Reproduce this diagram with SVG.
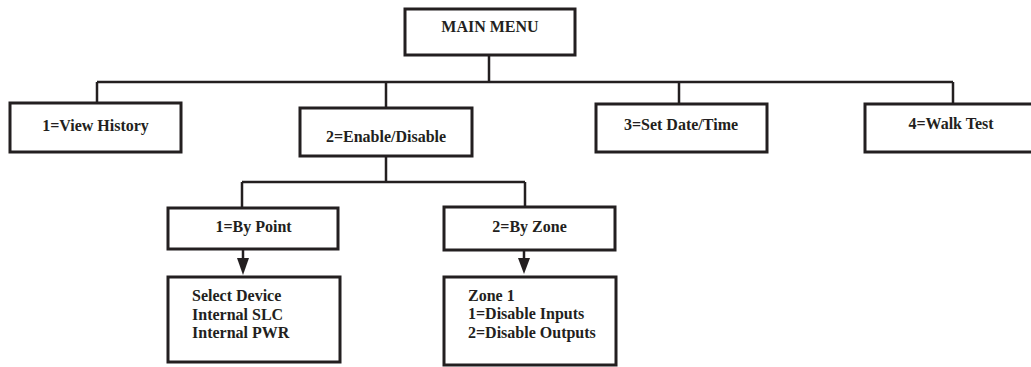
<svg xmlns="http://www.w3.org/2000/svg" width="1031" height="367" viewBox="0 0 1031 367">
<defs>
<style>
.box{fill:#fff;stroke:#231f20;stroke-width:3}
.ln{fill:none;stroke:#231f20;stroke-width:2.5}
.t{font-family:"Liberation Serif","Times New Roman",serif;font-weight:bold;font-size:16px;fill:#231f20}
.c{text-anchor:middle}
</style>
<marker id="arr" markerUnits="userSpaceOnUse" markerWidth="14" markerHeight="18" refX="12" refY="6" orient="auto">
<path d="M0,0 L14,6 L0,12 Z" fill="#231f20" transform="translate(-2,0)"/>
</marker>
</defs>
<rect width="1031" height="367" fill="#fff"/>
<g id="connectors">
<path class="ln" d="M489,55 V82 M97,82 H953 M97,82 V103 M386,82 V108 M679,82 V104 M953,82 V104"/>
<path class="ln" d="M386,156 V182 M242,182 H525 M242,182 V208 M525,182 V207"/>
<path class="ln" d="M243,249 V260" />
<polygon points="237,258 249,258 243,275" fill="#231f20"/>
<path class="ln" d="M524,250 V260" />
<polygon points="518,258 530,258 524,274" fill="#231f20"/>
</g>
<g id="main-menu"><rect class="box" x="405" y="9" width="170" height="46"/><text class="t c" x="490" y="32">MAIN MENU</text></g>
<g id="view-history"><rect class="box" x="10" y="103" width="171" height="49"/><text class="t c" x="95.5" y="131">1=View History</text></g>
<g id="enable-disable"><rect class="box" x="300" y="108" width="172" height="48"/><text class="t c" x="386" y="142">2=Enable/Disable</text></g>
<g id="set-date-time"><rect class="box" x="596" y="104" width="171" height="48"/><text class="t c" x="681" y="130">3=Set Date/Time</text></g>
<g id="walk-test"><rect class="box" x="865" y="104" width="180" height="48"/><text class="t c" x="951" y="129">4=Walk Test</text></g>
<g id="by-point"><rect class="box" x="168" y="208" width="170" height="41"/><text class="t c" x="253.5" y="232">1=By Point</text></g>
<g id="by-zone"><rect class="box" x="444" y="207" width="171" height="43"/><text class="t c" x="529.5" y="232">2=By Zone</text></g>
<g id="point-detail"><rect class="box" x="168" y="277" width="172" height="85"/>
<text class="t" x="192" y="301">Select Device</text>
<text class="t" x="192" y="320">Internal SLC</text>
<text class="t" x="192" y="338">Internal PWR</text></g>
<g id="zone-detail"><rect class="box" x="444" y="277" width="172" height="88"/>
<text class="t" x="468" y="301">Zone 1</text>
<text class="t" x="468" y="319">1=Disable Inputs</text>
<text class="t" x="468" y="338">2=Disable Outputs</text></g>
</svg>
